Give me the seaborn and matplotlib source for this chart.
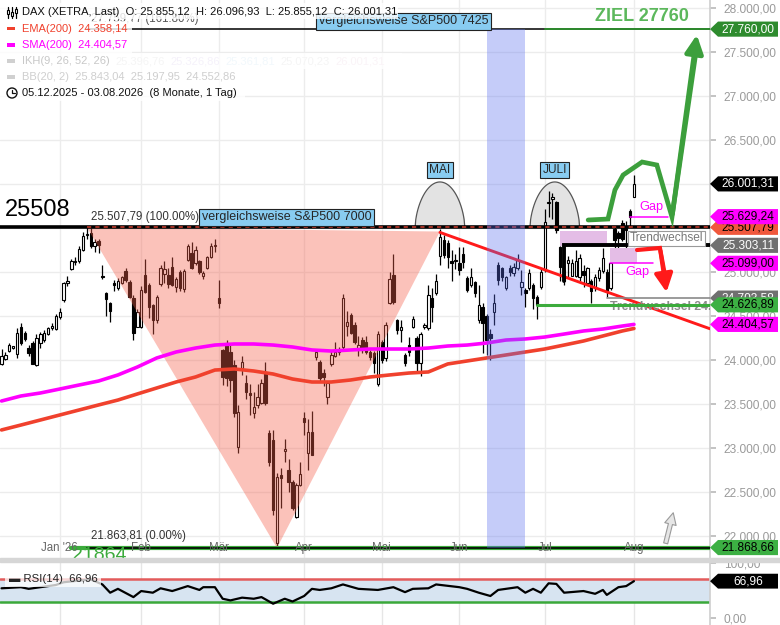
import numpy as np
import pandas as pd
import matplotlib
matplotlib.use("Agg")
import matplotlib.pyplot as plt
import matplotlib.transforms as mtrans
from matplotlib.patches import Polygon, Rectangle, Ellipse
from matplotlib.lines import Line2D
from matplotlib.ticker import FuncFormatter
import seaborn as sns

# ---------------- data (trading-day index 0 = 05.12.2025) ----------------
opens = [23950, 24015, 24100, 24140, 24070, 24370, 24310, 24140, 24190, 23940,
         24190, 24230, 24300, 24360, 24350, 24490, 24680, 24880, 25030, 25110,
         25120, 25250, 25420, 25440, 25290, 25350, 24950, 24760, 24650, 24880,
         24820, 24880, 25010, 24890, 24700, 24380, 24380, 24970, 24850, 24620,
         24460, 24860, 24980, 24970, 25060, 24830, 25000, 24810, 25140, 25220,
         25100, 25120, 24950, 25040, 25170, 25290, 24700, 24110, 24190, 24090,
         23940, 23010, 23910, 23740, 23620, 23400, 23490, 23510, 23850, 23170,
         23090, 21920, 22690, 22970, 22750, 22610, 22220, 22580, 23340, 22940,
         23180, 24030, 23980, 23850, 23580, 23960, 24050, 24090, 24150, 24390,
         24510, 24400, 24140, 24230, 24200, 24090, 24080, 23730, 24200, 24020,
         24650, 24970, 24450, 24340, 24060, 24170, 24380, 24250, 23970, 24370,
         24360, 24700, 24760, 25180, 25360, 25330, 25130, 25120, 25100, 25210,
         24930, 24850, 24890, 24450, 24600, 24500, 24290, 24550, 25080, 25050,
         24820, 25040, 24990, 25050, 24830, 24800, 24820, 24850, 24720, 24830,
         25020, 25780, 25830, 25790, 25280, 25020, 25100, 24960, 24960, 24940,
         25010, 24880, 24900, 24830, 24930, 25010, 25000, 24820, 25490, 25440,
         25560, 25510, 25690, 25855.12]
highs = [24130, 24090, 24190, 24160, 24360, 24420, 24330, 24170, 24220, 24290,
         24320, 24340, 24380, 24420, 24520, 24590, 24890, 24950, 25150, 25170,
         25290, 25450, 25507.79, 25500, 25370, 25370, 25080, 24770, 24660, 24910,
         24930, 24960, 25040, 24910, 24740, 24580, 24840, 25150, 24870, 24640,
         24740, 25080, 25130, 25050, 25170, 24940, 25020, 25030, 25320, 25340,
         25300, 25140, 25010, 25180, 25330, 25380, 24910, 24130, 24230, 24180,
         24000, 23490, 24050, 23830, 23730, 23640, 23730, 23780, 23980, 23210,
         23200, 22720, 22770, 23100, 22880, 22640, 22600, 22840, 23410, 23330,
         23420, 24110, 24000, 23900, 23760, 24110, 24200, 24150, 24750, 24560,
         24530, 24430, 24270, 24260, 24270, 24110, 24100, 24330, 24230, 24430,
         25000, 25200, 24470, 24460, 24080, 24260, 24500, 24270, 24320, 24420,
         24850, 24820, 24980, 25490, 25420, 25360, 25250, 25200, 25280, 25280,
         24950, 25040, 24900, 24850, 24650, 24520, 24350, 24750, 25110, 25060,
         24960, 25080, 25100, 25200, 25020, 24820, 25030, 24870, 24740, 25040,
         25720, 25920, 25900, 25810, 25290, 25120, 25180, 25150, 25250, 25200,
         25080, 25060, 24920, 24980, 25060, 25270, 25030, 25120, 25510, 25470,
         25590, 25580, 25720, 26096.93]
lows = [23940, 24000, 24090, 24130, 24020, 24170, 24220, 24050, 23950, 23930,
        24140, 24200, 24280, 24340, 24340, 24470, 24660, 24840, 25020, 25080,
        25100, 25240, 25380, 25270, 25230, 25220, 24920, 24500, 24430, 24780,
        24800, 24860, 24890, 24700, 24230, 24370, 24360, 24760, 24480, 24300,
        24420, 24840, 24880, 24820, 24840, 24770, 24780, 24770, 25130, 25030,
        25080, 24980, 24920, 25030, 25160, 25230, 24590, 23720, 23700, 23640,
        23350, 22940, 23830, 23560, 23380, 23340, 23460, 23500, 23490, 22800,
        22240, 21863.81, 22320, 22840, 22500, 22290, 22210, 22570, 23150, 22750,
        22920, 24000, 23750, 23700, 23500, 23930, 24030, 24060, 24130, 24270,
        24290, 24180, 24050, 24080, 24070, 24000, 23850, 23700, 23970, 23990,
        24640, 24640, 24300, 24200, 23930, 24050, 24360, 23880, 23820, 24350,
        24340, 24430, 24740, 25080, 25160, 25050, 24900, 25030, 24970, 25050,
        24770, 24830, 24720, 24420, 24080, 24060, 24000, 24400, 24850, 24900,
        24800, 24960, 24950, 25020, 24740, 24600, 24800, 24580, 24470, 24810,
        25000, 25620, 25600, 25440, 24900, 24850, 24940, 24950, 24940, 24900,
        24830, 24860, 24650, 24780, 24900, 24990, 24720, 24800, 25180, 25250,
        25350, 25200, 25510, 25855.12]
closes = [24040, 24055, 24170, 24150, 24310, 24190, 24240, 24080, 23960, 24250,
          24290, 24310, 24360, 24390, 24500, 24540, 24870, 24900, 25130, 25120,
          25260, 25410, 25430, 25290, 25340, 25310, 24940, 24690, 24560, 24850,
          24900, 24940, 24910, 24720, 24310, 24550, 24800, 24770, 24600, 24450,
          24720, 25040, 25030, 24860, 24850, 24920, 24820, 25010, 25290, 25050,
          25250, 25000, 24990, 25170, 25290, 25300, 24650, 23810, 23790, 23770,
          23400, 23410, 23980, 23640, 23600, 23470, 23580, 23740, 23510, 22840,
          22300, 22670, 22660, 22980, 22610, 22320, 22580, 22700, 23300, 23180,
          22920, 24090, 23800, 23810, 23740, 24060, 24090, 24110, 24700, 24430,
          24310, 24210, 24170, 24110, 24090, 24030, 23970, 24300, 24000, 24400,
          24920, 24660, 24340, 24370, 23970, 24090, 24470, 23970, 24300, 24400,
          24740, 24600, 24900, 25400, 25190, 25170, 25100, 25130, 25020, 25110,
          24790, 24940, 24760, 24620, 24420, 24230, 24250, 24650, 24910, 24940,
          24940, 25000, 25060, 25140, 24890, 24760, 24990, 24710, 24620, 25000,
          25570, 25800, 25850, 25480, 25060, 24900, 25140, 25100, 25130, 25160,
          24970, 25040, 24780, 24940, 25020, 25160, 24780, 25100, 25360, 25390,
          25380, 25480, 25620, 26001.31]

month_idx = [15, 36, 56, 78, 98, 118, 140, 163]
month_lbl = ["Jan '26", "Feb", "Mär", "Apr", "Mai", "Jun", "Jul", "Aug"]

ma_idx = [0, 5, 10, 15, 20, 25, 30, 35, 40, 45, 50, 55, 60, 65, 70, 75, 80, 85, 90, 95,
          100, 105, 110, 115, 120, 125, 130, 135, 140, 145, 150, 155, 160, 163]
sma_val = [23534, 23591, 23625, 23670, 23716, 23761, 23830, 23920, 24023, 24091,
           24136, 24170, 24182, 24182, 24170, 24148, 24114, 24102, 24114, 24125,
           24125, 24125, 24136, 24159, 24170, 24193, 24227, 24239, 24261, 24295,
           24330, 24352, 24386, 24404.57]
ema_val = [23205, 23261, 23318, 23375, 23432, 23489, 23545, 23614, 23682, 23750,
           23807, 23886, 23898, 23875, 23841, 23784, 23750, 23750, 23773, 23807,
           23830, 23852, 23864, 23955, 23989, 24023, 24057, 24091, 24125, 24170,
           24216, 24273, 24330, 24358.14]

rsi_idx = [0, 5, 7, 10, 14, 16, 20, 23, 26, 28, 30, 34, 36, 39, 41, 44, 48, 51, 52, 55,
           57, 59, 62, 65, 67, 70, 73, 75, 78, 80, 82, 85, 88, 92, 97, 101, 104, 106, 110, 112,
           118, 120, 123, 126, 128, 133, 135, 137, 139, 141, 143, 145, 150, 153, 155, 156, 159, 161, 163]
rsi_val = [54, 56, 53, 56, 60, 65, 68, 70, 61, 46, 53, 38, 49, 46, 54, 49, 58, 51, 56, 56,
           35, 32, 37, 35, 38, 26, 35, 30, 40, 53, 51, 54, 61, 53, 51, 56, 47, 53, 54, 61,
           56, 53, 46, 40, 51, 56, 46, 53, 46, 63, 62, 46, 49, 44, 51, 42, 56, 58, 66.96]

yticks = list(range(22000, 28001, 500))

fib0, fib100, fib161 = 21863.81, 25507.79, 27759.77
ziel = 27760.0
trend1, trend2 = 25303.11, 24703.58
green_lvl = 24626.89
gap1_lvl, gap2_lvl = 25629.24, 25099.00

# annotation geometry (index, value)
tri_x = [22, 113, 71]
tri_y = [fib100, 25460, fib0]
band_x = [125.1, 134.9]
redtrend_x = [113, 182.6]
redtrend_y = [25450, 24355]
green_path_x = [151.2, 156.3, 158.1, 160.2, 165.1, 168.9, 172.8, 179.3]
green_path_y = [25591, 25602, 25932, 26102, 26250, 26216, 25625, 27727]
red_path_x = [163.8, 169.7, 171.5]
red_path_y = [25250, 25273, 24739]

tag_vals = [25507.79, 27760.00, 26001.31, 25629.24, 25303.11, 25099.00, 24703.58, 24626.89, 24404.57, 21868.66]
tag_fc = ['#f0583c', '#2e8b2e', '#000000', '#ff00ff', '#707070', '#ff00ff', '#707070', '#3cb043', '#ff00ff', '#3cb043']
tag_tc = ['black', 'white', 'white', 'black', 'white', 'black', 'white', 'black', 'black', 'black']


def de(v, d=2):
    s = f"{v:,.{d}f}"
    return s.replace(",", "X").replace(".", ",").replace("X", ".")


sns.set_theme(style="white")
plt.rcParams['font.family'] = ['Liberation Sans', 'DejaVu Sans']

W, H = 780, 625
fig = plt.figure(figsize=(7.8, 6.25), dpi=100)
fig.patch.set_facecolor('white')


def fx(px):
    return px / W


def fy(py):
    return 1 - py / H


ax = fig.add_axes([0, fy(558), fx(710), 558 / H])
ax2 = fig.add_axes([0, 0, fx(710), (625 - 561) / H])

XL = (-0.39, 182.6)
ax.set_xlim(*XL)
ax.set_ylim(21750, 28091)
ax.set_facecolor('white')
for s in ['top', 'left', 'bottom']:
    ax.spines[s].set_visible(False)
ax.spines['right'].set_color('#d0d0d0')
ax.set_yticks(yticks)
ax.set_xticks(month_idx)
ax.grid(True, color='#ececec', lw=1)
ax.set_axisbelow(True)
ax.tick_params(axis='x', length=0, labelbottom=False)
ax.yaxis.tick_right()
ax.yaxis.set_major_formatter(FuncFormatter(lambda v, p: de(v)))
ax.tick_params(axis='y', labelsize=8.6, labelcolor='#9a9a9a', color='#bbbbbb', length=4, pad=6)

# month labels inside plot
tr_xa = mtrans.blended_transform_factory(ax.transData, ax.transAxes)
for i, lb in zip(month_idx, month_lbl):
    ax.text(i, 0.018, lb, transform=tr_xa, ha='center', va='center', fontsize=8.3, color='#666666', zorder=9)

# arches
def arch(center, halfw, base, top):
    t = np.linspace(-1, 1, 80)
    xs = center + halfw * t
    ys = base + (top - base) * (1 - t ** 2) ** 0.6
    ax.fill_between(xs, base, ys, color='#e3e3e3', zorder=1, lw=0)
    ax.plot(xs, ys, color='#555555', lw=0.9, zorder=1.5)

arch(113, 6.4, fib100, 26023)
arch(142.6, 6.4, fib100, 26023)

# candles
idx = np.arange(len(closes))
o = np.array(opens); c = np.array(closes); h = np.array(highs); l = np.array(lows)
up = c >= o
ax.vlines(idx, l, h, color='black', lw=0.9, zorder=2)
blo = np.minimum(o, c)
bh = np.maximum(np.abs(c - o), 14)
ax.bar(idx[up], bh[up], bottom=blo[up], width=0.62, color='white', edgecolor='black', linewidth=0.8, zorder=3)
ax.bar(idx[~up], bh[~up], bottom=blo[~up], width=0.62, color='black', edgecolor='black', linewidth=0.8, zorder=3)

# pink triangle
ax.add_patch(Polygon(list(zip(tri_x, tri_y)), closed=True, facecolor='#f55f4b', alpha=0.38, lw=0, zorder=3.5))

# moving averages
ma_df = pd.DataFrame({'idx': ma_idx, 'sma': sma_val, 'ema': ema_val})
sns.lineplot(data=ma_df, x='idx', y='ema', ax=ax, color='#f0412d', lw=2.6, zorder=5)
sns.lineplot(data=ma_df, x='idx', y='sma', ax=ax, color='#ff00ff', lw=2.6, zorder=5)
ax.set_xlabel(''); ax.set_ylabel('')

# horizontal levels
ax.plot(XL, [fib100, fib100], color='black', lw=2.6, zorder=4.2)
ax.plot([22, XL[1]], [fib100, fib100], color='#c0392b', lw=1.2, ls=(0, (2.5, 2.5)), zorder=4.3)
ax.plot([22, XL[1]], [fib161, fib161], color='black', lw=1.1, zorder=4.2)
ax.plot([140, XL[1]], [ziel, ziel], color='#2e8b2e', lw=1.4, zorder=4.3)
ax.plot([18, XL[1]], [21868.66, 21868.66], color='#3cab3c', lw=3.0, zorder=4.2)
ax.plot([22, XL[1]], [fib0, fib0], color='black', lw=1.2, zorder=4.3)

# red trendline
ax.plot(redtrend_x, redtrend_y, color='#ff1a1a', lw=2.1, zorder=5.5)

# blue band
ax.fill_between(band_x, fib0, fib161, color='#5a6ff0', alpha=0.35, lw=0, zorder=6)

# trendwechsel structures
ax.plot([156, XL[1]], [trend2, trend2], color='#8a8a8a', lw=1.2, zorder=6.5)
ax.text(156.8, 24600, 'Trendwechsel 24.703,58', color='#8c8c8c', fontsize=8.8, fontweight='bold',
        ha='left', va='center', clip_on=True, zorder=6.6)
ax.plot([138, XL[1]], [green_lvl, green_lvl], color='#3cab3c', lw=2.2, zorder=7)
ax.plot([145, 145, XL[1]], [24900, trend1, trend1], color='black', lw=2.8, zorder=7,
        solid_joinstyle='miter')
ax.text(162, 25383, 'Trendwechsel', color='#777777', fontsize=8.6, ha='left', va='center', clip_on=True,
        bbox=dict(boxstyle='square,pad=0.15', fc='white', ec='#9a9a9a', lw=0.8), zorder=7.5)

# gap areas
ax.add_patch(Rectangle((144, 25295), 12, 171, facecolor='#e4bde6', lw=0, zorder=6.8))
ax.add_patch(Rectangle((156.8, 25102), 7, 171, facecolor='#e4bde6', lw=0, zorder=6.8))
ax.plot([162, 171.8], [gap1_lvl, gap1_lvl], color='#ff00ff', lw=1.1, zorder=7)
ax.plot([156.8, 167.9], [gap2_lvl, gap2_lvl], color='#ff00ff', lw=1.1, zorder=7)
ax.text(167.4, 25739, 'Gap', color='#ff00ff', fontsize=9.2, ha='center', va='center', zorder=7)
ax.text(163.8, 25000, 'Gap', color='#ff00ff', fontsize=9.2, ha='center', va='center', zorder=7)

# projections
ax.plot(red_path_x[:-1] + [red_path_x[-1] - 0.2], red_path_y[:-1] + [red_path_y[-1] + 150],
        color='#ff1a1a', lw=3.0, zorder=8, solid_joinstyle='miter')
ax.annotate('', xy=(red_path_x[-1], red_path_y[-1]), xytext=(red_path_x[-2], red_path_y[-2]),
            arrowprops=dict(arrowstyle='-|>,head_length=0.9,head_width=0.45', color='#ff1a1a', lw=3.0),
            zorder=8)
ax.plot(green_path_x[:-1] + [green_path_x[-1] - 0.4], green_path_y[:-1] + [green_path_y[-1] - 250],
        color='#3c9f3c', lw=3.4, zorder=8, solid_joinstyle='miter')
ax.annotate('', xy=(green_path_x[-1], green_path_y[-1]), xytext=(green_path_x[-2], green_path_y[-2]),
            arrowprops=dict(arrowstyle='-|>,head_length=0.9,head_width=0.45', color='#3c9f3c', lw=3.4),
            zorder=8)
ax.annotate('', xy=(173.3, 22295), xytext=(171, 21886),
            arrowprops=dict(arrowstyle='simple,head_width=0.7,head_length=0.7,tail_width=0.25',
                            fc='#e6e6e6', ec='#9a9a9a', lw=0.8), zorder=8)

# text labels
ax.text(0.9, 25705, '25508', fontsize=17, color='black', ha='left', va='center', zorder=9)
ax.text(23.1, 25625, '25.507,79 (100.00%)', fontsize=8.3, color='#333333', ha='left', va='center', zorder=9)
ax.text(23.1, 22000, '21.863,81 (0.00%)', fontsize=8.3, color='#333333', ha='left', va='center', zorder=9)
ax.text(23.1, 27872, '27.759,77 (161.80%)', fontsize=8.3, color='#555555', ha='left', va='center', zorder=9)
ax.text(18.2, 21880, '21864', fontsize=14, color='#3cab3c', ha='left', va='top', zorder=9, clip_on=True)
ax.text(165.1, 27898, 'ZIEL 27760', fontsize=13, fontweight='bold', color='#5cb85c', ha='center', va='center', zorder=9)
box = dict(boxstyle='square,pad=0.2', fc='#88ccf1', ec='#222222', lw=0.8)
ax.text(51.6, 25625, 'vergleichsweise S&P500 7000', fontsize=9.0, ha='left', va='center', bbox=box, zorder=9)
ax.text(81.8, 27850, 'vergleichsweise S&P500 7425', fontsize=9.0, ha='left', va='center', bbox=box, zorder=9)
ax.text(113, 26159, 'MAI', fontsize=8.6, ha='center', va='center', bbox=box, zorder=9)
ax.text(142.6, 26159, 'JULI', fontsize=8.6, ha='center', va='center', bbox=box, zorder=9)

# price tags on the right axis
def tag(axis, val, label, fc, tc, hh, z):
    trb = mtrans.blended_transform_factory(axis.transAxes, axis.transData)
    w = 710.0
    pts = [(1.0, val), (1 + 8 / w, val + hh), (1 + 68 / w, val + hh), (1 + 68 / w, val - hh), (1 + 8 / w, val - hh)]
    axis.add_patch(Polygon(pts, closed=True, transform=trb, facecolor=fc, edgecolor='none', clip_on=False, zorder=z))
    axis.text(1 + 38 / w, val, label, transform=trb, ha='center', va='center', color=tc, fontsize=8.6,
              clip_on=False, zorder=z + 0.1)

for k, (v, fcol, tcol) in enumerate(zip(tag_vals, tag_fc, tag_tc)):
    tag(ax, v, de(v), fcol, tcol, 86, 20 + k)

# ---------------- RSI panel ----------------
ax2.set_xlim(*XL)
ax2.set_ylim(-12.7, 103.6)
for s in ['top', 'left', 'bottom']:
    ax2.spines[s].set_visible(False)
ax2.spines['right'].set_color('#d0d0d0')
ax2.set_xticks(month_idx)
ax2.set_yticks([0, 100])
ax2.grid(True, axis='x', color='#e6e6e6', lw=1)
ax2.set_axisbelow(True)
ax2.tick_params(axis='x', length=0, labelbottom=False)
ax2.yaxis.tick_right()
ax2.yaxis.set_major_formatter(FuncFormatter(lambda v, p: de(v)))
ax2.tick_params(axis='y', labelsize=8.6, labelcolor='#9a9a9a', color='#bbbbbb', length=4, pad=6)
ax2.fill_between(XL, 30, 70, color='#d7e4f1', lw=0, zorder=1)
ax2.plot(XL, [70, 70], color='#e35b5b', lw=1.8, zorder=2)
ax2.plot(XL, [30, 30], color='#3aa83a', lw=1.8, zorder=2)
rsi_df = pd.DataFrame({'idx': rsi_idx, 'rsi': rsi_val})
sns.lineplot(data=rsi_df, x='idx', y='rsi', ax=ax2, color='black', lw=1.6, zorder=3)
ax2.set_xlabel(''); ax2.set_ylabel('')
ax2.text(0.012, 0.72, '▬ RSI(14)  66,96', transform=ax2.transAxes, fontsize=8.2, color='#222222',
         ha='left', va='center', zorder=5,
         bbox=dict(boxstyle='square,pad=0.3', fc='white', ec='none', alpha=0.75))
tag(ax2, 66.96, '66,96', '#000000', 'white', 13.5, 20)

# separator band
fig.add_artist(Rectangle((0, fy(561.5)), 1, 4 / H, transform=fig.transFigure, color='#d6d6d6', zorder=1))

# ---------------- top-left legend ----------------
rows_bg = [(0, 3, 398, 18.5), (0, 20.5, 132, 36.5), (0, 37, 132, 53), (0, 53, 402, 69), (0, 69, 245, 85), (0, 85, 245, 101)]
for (x0, y0, x1, y1) in rows_bg:
    fig.add_artist(Rectangle((fx(x0), fy(y1)), fx(x1 - x0), (y1 - y0) / H, transform=fig.transFigure,
                             facecolor='white', edgecolor='none', alpha=0.82, zorder=2))

LS = 8.0


def row(y, parts, x0=22):
    t = fig.text(fx(x0), fy(y), parts[0][0], color=parts[0][1], fontsize=LS, ha='left', va='center', zorder=3)
    for txt, col in parts[1:]:
        t = ax.annotate(txt, xy=(1, 0.5), xycoords=t, xytext=(4, 0), textcoords='offset points',
                        ha='left', va='center', color=col, fontsize=LS, annotation_clip=False, zorder=40)
    return t

row(12, [('DAX (XETRA, Last)  O: 25.855,12  H: 26.096,93  L: 25.855,12  C: 26.001,31', '#111111')])
row(28.5, [('EMA(200)  24.358,14', '#f0412d')])
row(45, [('SMA(200)  24.404,57', '#ff00ff')])
row(61, [('IKH(9, 26, 52, 26)', '#c8c8c8'), ('25.396,76', '#c8c8c8'), ('25.326,86', '#c9b6e6'),
         ('25.361,81', '#b5d9ee'), ('25.070,23', '#c8c8c8'), ('26.001,31', '#e6c3d6')])
row(77, [('BB(20, 2)  25.843,04  25.197,95  24.552,86', '#cfcfcf')])
row(93, [('05.12.2025 - 03.08.2026  (8 Monate, 1 Tag)', '#111111')])

# legend icons
for x_ in (8, 12, 16):
    fig.add_artist(Line2D([fx(x_), fx(x_)], [fy(7), fy(18)], transform=fig.transFigure, color='black', lw=0.9, zorder=3))
for x_, ya, yb in ((8, 10, 14), (12, 12, 16), (16, 9, 13)):
    fig.add_artist(Rectangle((fx(x_ - 1.3), fy(yb)), fx(2.6), (yb - ya) / H, transform=fig.transFigure,
                             facecolor='white', edgecolor='black', lw=0.8, zorder=3.1))
for yy, col in ((28.5, '#f0412d'), (45, '#ff00ff'), (61, '#d0d0d0'), (77, '#d0d0d0')):
    fig.add_artist(Rectangle((fx(7), fy(yy + 1.5)), fx(8), 3 / H, transform=fig.transFigure,
                             facecolor=col, edgecolor='none', zorder=3))
fig.add_artist(Ellipse((fx(12), fy(93)), fx(10), 10 / H, transform=fig.transFigure, facecolor='none',
                       edgecolor='#111111', lw=1.0, zorder=3))
fig.add_artist(Line2D([fx(12), fx(12), fx(15)], [fy(89.5), fy(93), fy(93)], transform=fig.transFigure,
                      color='#111111', lw=0.9, zorder=3))

fig.savefig('out.png', dpi=100, facecolor='white')
